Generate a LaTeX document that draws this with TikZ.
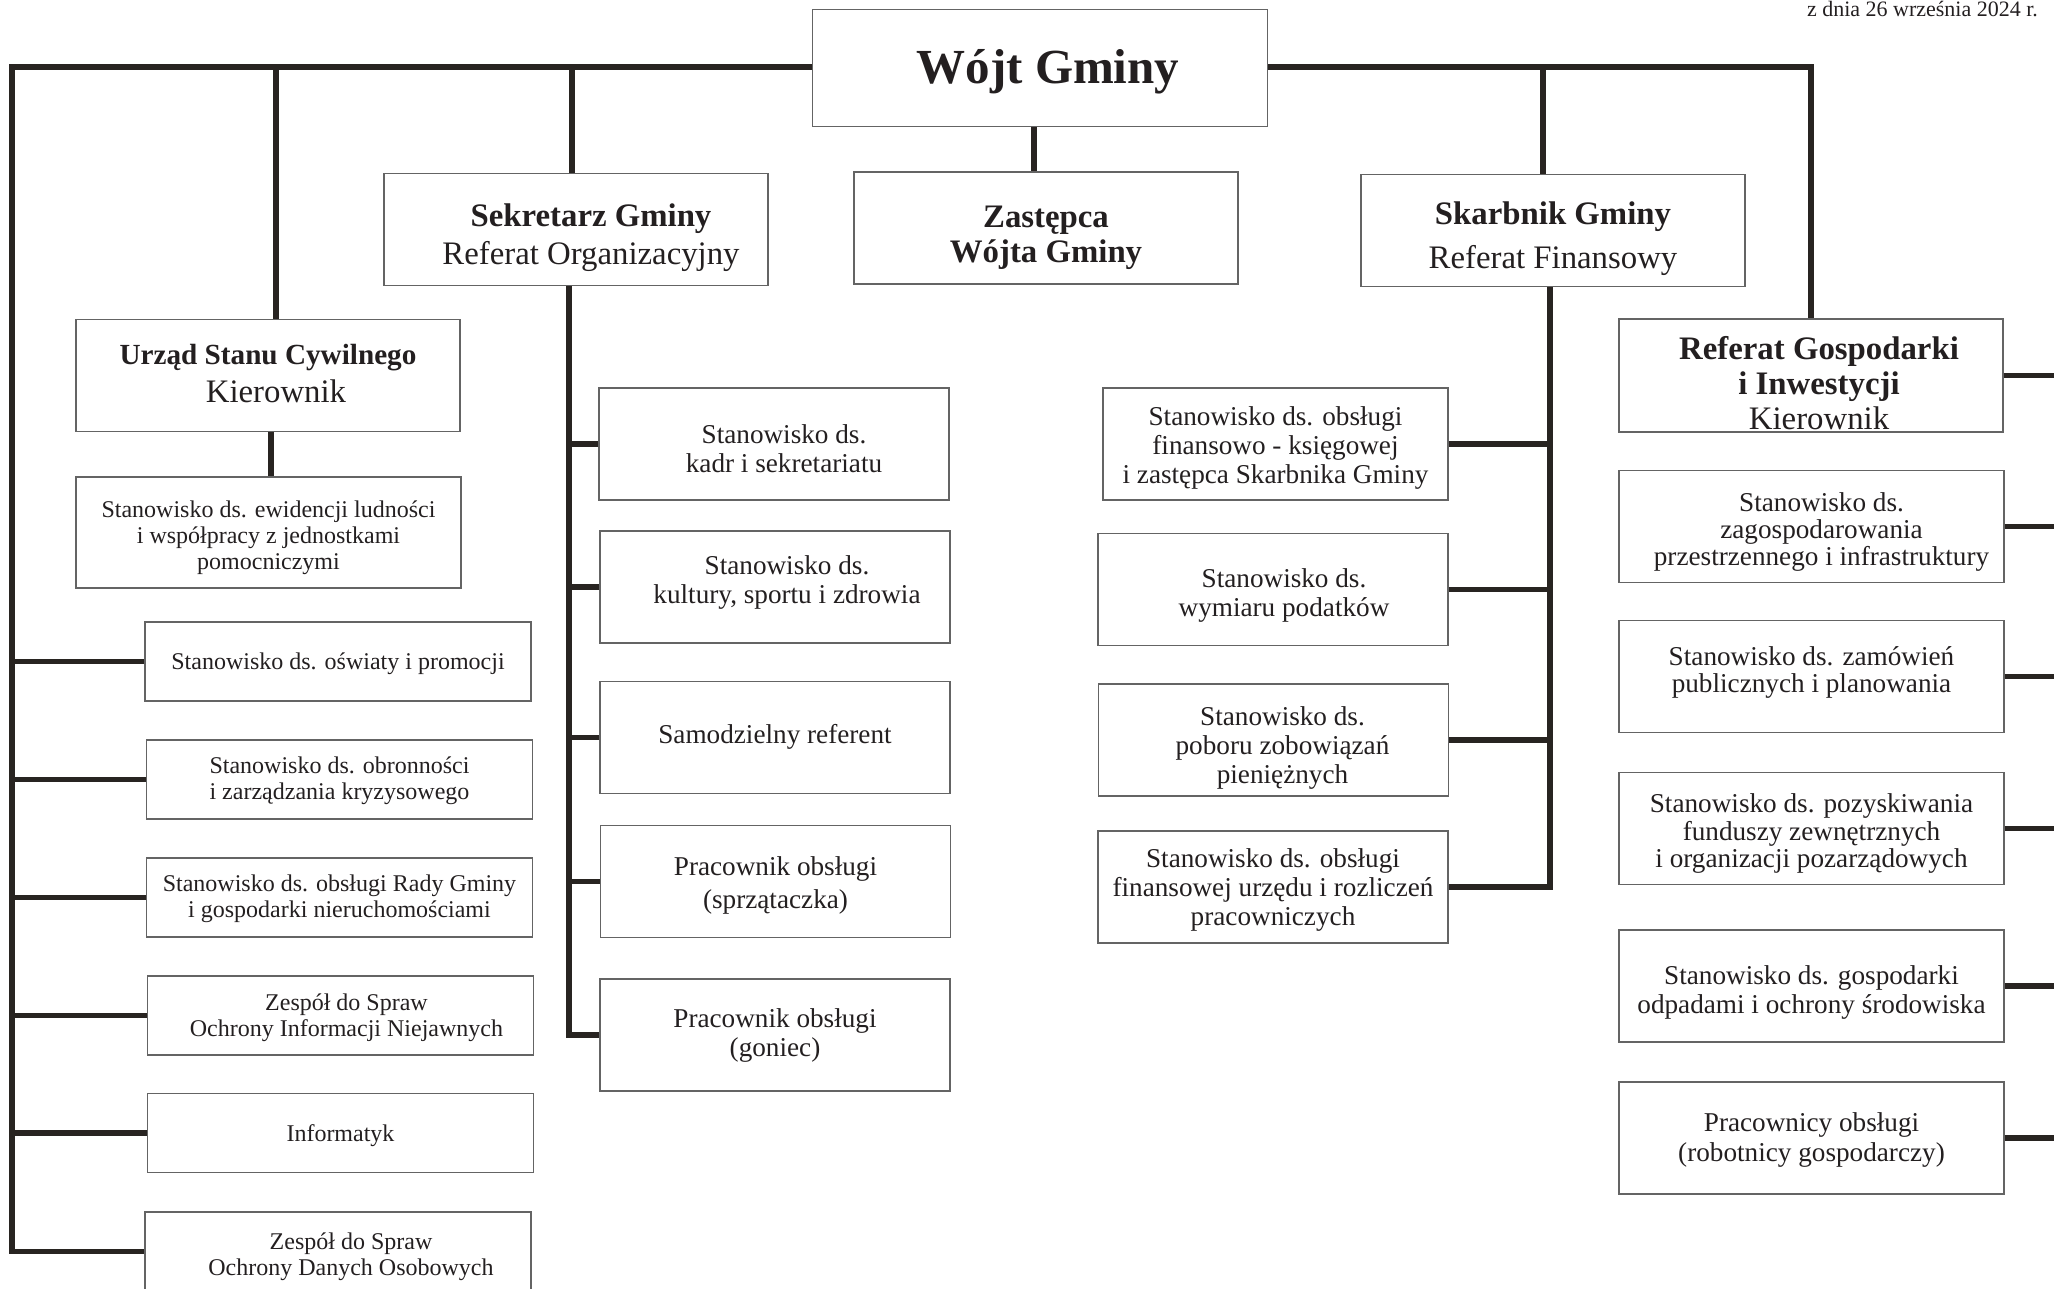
\documentclass[tikz,border=0pt]{standalone}
\usepackage{fontspec}
\setmainfont{Liberation Serif}
\definecolor{orgline}{RGB}{40, 36, 33}
\definecolor{orgframe}{RGB}{100, 100, 100}
\definecolor{orgtext}{RGB}{35, 31, 32}
% centred lines, lowered by #1 inside the frame
\newcommand{\boxlines}[2][0pt]{%
  \raisebox{-#1}[\height][\depth]{\begin{tabular}{@{}c@{}}#2\end{tabular}}}

\begin{document}
\begin{tikzpicture}[
    x=0.5pt, y=-0.5pt,
    box/.style={rectangle, draw=orgframe, line width=0.65pt,
                text=orgtext, inner sep=2pt},
    boss/.style={box, minimum width=227.5pt, minimum height=58.5pt,
                 font=\fontsize{24.5}{28}\selectfont\bfseries},
    head/.style={box, minimum width=192pt, minimum height=56pt,
                 font=\fontsize{16.4}{19}\selectfont},
    postL/.style={box, minimum width=193pt, minimum height=39.5pt,
                  font=\fontsize{12}{13}\selectfont},
    postM/.style={box, minimum width=175pt, minimum height=56pt,
                  font=\fontsize{13.6}{14.5}\selectfont},
    postR/.style={box, minimum width=192.5pt, minimum height=56pt,
                  font=\fontsize{13.6}{13.5}\selectfont},
    conn/.style={draw=orgline, line width=2.8pt},
  ]
  \useasboundingbox (0,0) rectangle (2054,1289);

  \node[anchor=base east, text=orgtext, font=\fontsize{11}{13}\selectfont]
        (date) at (2045,17) {z dnia 26 września 2024 r.};

  % ── Top level ────────────────────────────────────
  \node[boss] (wojt) at (1040, 68) {\boxlines[2.3pt]{\hspace*{8pt}Wójt Gminy}};

  \node[head] (sek)   at ( 576, 229.5)
        {\boxlines[4pt]{\hspace*{15pt}\textbf{Sekretarz Gminy}\\\hspace*{15pt}Referat Organizacyjny}};
  \node[head, font=\fontsize{16.4}{17.5}\selectfont\bfseries] (zast) at (1046, 228)
        {\boxlines[5pt]{Zastępca\\Wójta Gminy}};
  \node[head] (skarb) at (1553, 230.5)
        {\boxlines[4.3pt]{\textbf{Skarbnik Gminy}\\[3pt]Referat Finansowy}};
  \node[head] (usc)   at ( 268, 375.5)
        {\boxlines{{\fontsize{14.6}{19}\selectfont\bfseries Urząd Stanu Cywilnego}\\\hspace*{8pt}Kierownik}};
  \node[head, font=\fontsize{16.4}{17.5}\selectfont] (rgi) at (1811, 375.5)
        {\boxlines[6.2pt]{\hspace*{8pt}\textbf{Referat Gospodarki}\\\hspace*{8pt}\textbf{i Inwestycji}\\\hspace*{8pt}Kierownik}};

  % ── Left column ──────────────────────────────────
  \node[postL, minimum width=192.5pt, minimum height=55.5pt] (ewid) at (268.5, 532.5)
        {\boxlines[2.8pt]{Stanowisko ds. ewidencji ludności\\i współpracy z jednostkami\\pomocniczymi}};
  \node[postL] (oswiata)    at (338, 661.5)
        {\boxlines[1.5pt]{Stanowisko ds. oświaty i promocji}};
  \node[postL] (obron)      at (339.5, 779.5)
        {\boxlines[0.85pt]{Stanowisko ds. obronności\\i zarządzania kryzysowego}};
  \node[postL] (rada)       at (339.5, 897.5)
        {\boxlines[0.85pt]{Stanowisko ds. obsługi Rady Gminy\\i gospodarki nieruchomościami}};
  \node[postL] (zoin)       at (340.5, 1015.5)
        {\boxlines[1.5pt]{\hspace*{6pt}Zespół do Spraw\\\hspace*{6pt}Ochrony Informacji Niejawnych}};
  \node[postL] (informatyk) at (340.5, 1133)
        {\boxlines[1.5pt]{Informatyk}};
  \node[postL] (zodo)       at (338, 1251.5)
        {\boxlines[2.8pt]{\hspace*{13pt}Zespół do Spraw\\\hspace*{13pt}Ochrony Danych Osobowych}};

  % ── Sekretarz ────────────────────────────────────
  \node[postM] (kadry)    at (774, 444)
        {\boxlines[4pt]{\hspace*{10pt}Stanowisko ds.\\\hspace*{10pt}kadr i sekretariatu}};
  \node[postM] (kultura)  at (775, 587)
        {\boxlines[-1.75pt]{\hspace*{12pt}Stanowisko ds.\\\hspace*{12pt}kultury, sportu i zdrowia}};
  \node[postM] (referent) at (775, 737.5)
        {\boxlines[0.25pt]{Samodzielny referent}};
  \node[postM] (sprzat)   at (775.5, 881.5)
        {\boxlines[2.5pt]{Pracownik obsługi\\[2pt](sprzątaczka)}};
  \node[postM] (goniec)   at (775, 1035)
        {\boxlines[0.6pt]{Pracownik obsługi\\(goniec)}};

  % ── Skarbnik ─────────────────────────────────────
  \node[postM, minimum width=172.5pt] (finks) at (1275.5, 444)
        {\boxlines[2.25pt]{Stanowisko ds. obsługi\\finansowo - księgowej\\i zastępca Skarbnika Gminy}};
  \node[postM] (podatki) at (1273, 589.5)
        {\boxlines[3.25pt]{\hspace*{11pt}Stanowisko ds.\\\hspace*{11pt}wymiaru podatków}};
  \node[postM] (pobor)   at (1273.5, 740)
        {\boxlines[4.2pt]{\hspace*{9pt}Stanowisko ds.\\\hspace*{9pt}poboru zobowiązań\\\hspace*{9pt}pieniężnych}};
  \node[postM] (finurz)  at (1273, 887)
        {\boxlines[1.9pt]{Stanowisko ds. obsługi\\finansowej urzędu i rozliczeń\\pracowniczych}};

  % ── Referat Gospodarki ───────────────────────────
  \node[postR] (zagosp)  at (1811.5, 526.5)
        {\boxlines[3.45pt]{\hspace*{10pt}Stanowisko ds.\\\hspace*{10pt}zagospodarowania\\\hspace*{10pt}przestrzennego i infrastruktury}};
  \node[postR] (zamow)   at (1811.5, 676.5)
        {\boxlines[-1.55pt]{Stanowisko ds. zamówień\\publicznych i planowania}};
  \node[postR] (pozysk)  at (1811.5, 828.5)
        {\boxlines[3.05pt]{Stanowisko ds. pozyskiwania\\funduszy zewnętrznych\\i organizacji pozarządowych}};
  \node[postR] (odpady)  at (1811.5, 986)
        {\boxlines[3.75pt]{Stanowisko ds. gospodarki\\[1pt]odpadami i ochrony środowiska}};
  \node[postR] (robot)   at (1811.5, 1138)
        {\boxlines[1.75pt]{Pracownicy obsługi\\[1.5pt](robotnicy gospodarczy)}};

  % ── Connectors ───────────────────────────────────
  \coordinate (lefttrunk)  at (12, 67);
  \coordinate (rightedge)  at (2054, 67);
  \coordinate (sektrunk)   at ([xshift=-3.5pt]sek.south);
  \coordinate (skarbtrunk) at ([xshift=-1.5pt]skarb.south);

  \draw[conn] (wojt.west |- lefttrunk) -- (lefttrunk) |- (zodo.west);
  \foreach \n in {oswiata, obron, rada, zoin, informatyk}
    \draw[conn] (\n.west) -- (\n.west -| lefttrunk);
  \draw[conn] ([xshift=4pt]usc.north) -- ([xshift=4pt]usc.north |- lefttrunk);
  \draw[conn] ([xshift=1.5pt]usc.south) -- ([xshift=1.5pt]usc.south |- ewid.north);
  \draw[conn] ([xshift=-2pt]sek.north) -- ([xshift=-2pt]sek.north |- lefttrunk);
  \draw[conn] ([xshift=-3pt]wojt.south) -- ([xshift=-3pt]wojt.south |- zast.north);
  \draw[conn] (wojt.east |- rightedge) -| (rgi.north);
  \draw[conn] ([xshift=-5pt]skarb.north) -- ([xshift=-5pt]skarb.north |- rightedge);

  \draw[conn] (sektrunk) |- (goniec.west);
  \foreach \n in {kadry, kultura, referent, sprzat}
    \draw[conn] (\n.west) -- (\n.west -| sektrunk);

  \draw[conn] (skarbtrunk) |- (finurz.east);
  \foreach \n in {finks, podatki, pobor}
    \draw[conn] (\n.east) -- (\n.east -| skarbtrunk);

  \foreach \n in {rgi, zagosp, zamow, pozysk, odpady, robot}
    \draw[conn] (\n.east) -- (\n.east -| rightedge);

  \end{tikzpicture}
\end{document}
